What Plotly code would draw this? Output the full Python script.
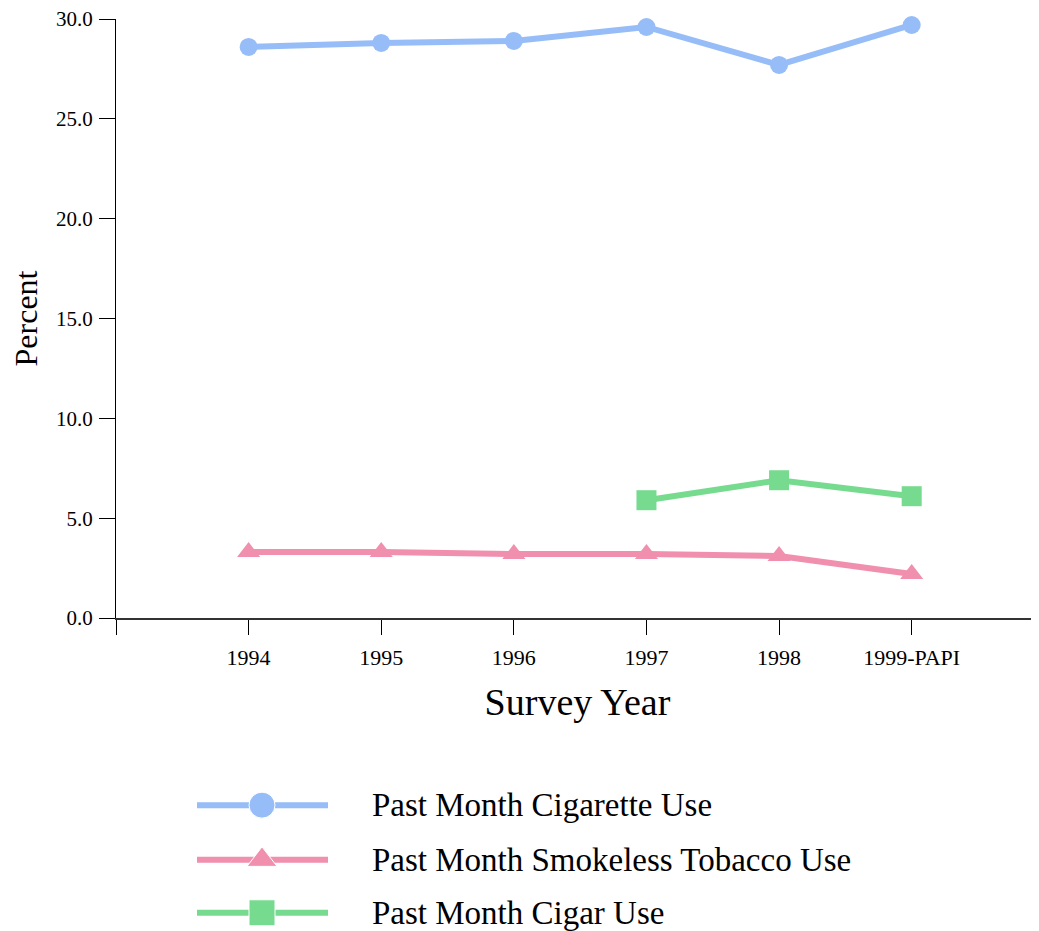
import plotly.graph_objects as go

years = ["1994", "1995", "1996", "1997", "1998", "1999-PAPI"]
cigarette = [28.6, 28.8, 28.9, 29.6, 27.7, 29.7]
smokeless = [3.3, 3.3, 3.2, 3.2, 3.1, 2.2]
cigar = [None, None, None, 5.9, 6.9, 6.1]
series_names = ["Past Month Cigarette Use", "Past Month Smokeless Tobacco Use", "Past Month Cigar Use"]

colors = ["#96bdf7", "#f08fae", "#77db8f"]
symbols = ["circle", "triangle-up", "square"]
msizes = [18, 20, 20]
FONT = "Liberation Serif, Times New Roman, serif"

xi = list(range(len(years)))
fig = go.Figure()
for vals, name, c, s, ms in zip([cigarette, smokeless, cigar], series_names, colors, symbols, msizes):
    fig.add_trace(go.Scatter(x=xi, y=vals, name=name, mode="lines+markers",
                             line=dict(color=c, width=6),
                             marker=dict(color=c, symbol=s, size=ms, opacity=1),
                             connectgaps=False, cliponaxis=False, showlegend=False))

# hand-made legend on its own axes (long line keys like the original)
leg_rows = [0.69, 0.39, 0.10]
for name, c, s, row in zip(series_names, colors, symbols, leg_rows):
    fig.add_trace(go.Scatter(x=[197, 262, 328], y=[row] * 3, mode="lines+markers",
                             line=dict(color=c, width=6),
                             marker=dict(color=c, symbol=s, size=[0, 26, 0], opacity=1),
                             xaxis="x2", yaxis="y2", showlegend=False, hoverinfo="skip"))
    fig.add_annotation(x=370, y=row, xref="x2", yref="y2", text=name, showarrow=False,
                       xanchor="left", yanchor="middle",
                       font=dict(family=FONT, size=33, color="black"))

# page body has an 8px margin, so the figure is 8px smaller on each side
fig.update_layout(
    width=1031, height=923,
    margin=dict(l=108, r=0, t=11, b=0),
    plot_bgcolor="white", paper_bgcolor="white",
    font=dict(family=FONT, color="black"),
    xaxis=dict(range=[-1, 5.96], tickvals=[-1] + xi, ticktext=[""] + years,
               showgrid=False, zeroline=False, showline=True, linecolor="#333", linewidth=1.5,
               ticks="outside", ticklen=15, tickcolor="black", tickwidth=1,
               tickfont=dict(size=22), ticklabelstandoff=4, automargin=False,
               title=dict(text="Survey Year", font=dict(size=38), standoff=19),
               anchor="y"),
    yaxis=dict(domain=[0.3432, 1], range=[0, 30], tickvals=[0, 5, 10, 15, 20, 25, 30],
               tickformat=".1f", showgrid=False, zeroline=False, showline=True,
               linecolor="black", linewidth=1, ticks="outside", ticklen=16,
               tickcolor="black", tickfont=dict(size=21), ticklabelstandoff=2,
               ticklabeloverflow="allow", automargin=False,
               title=dict(text="Percent", font=dict(size=32), standoff=16)),
    xaxis2=dict(domain=[0, 1], range=[116, 1039], visible=False, anchor="y2", fixedrange=True),
    yaxis2=dict(domain=[0, 0.2], range=[0, 1], visible=False, anchor="x2", fixedrange=True),
)

fig.write_html("out.html")
